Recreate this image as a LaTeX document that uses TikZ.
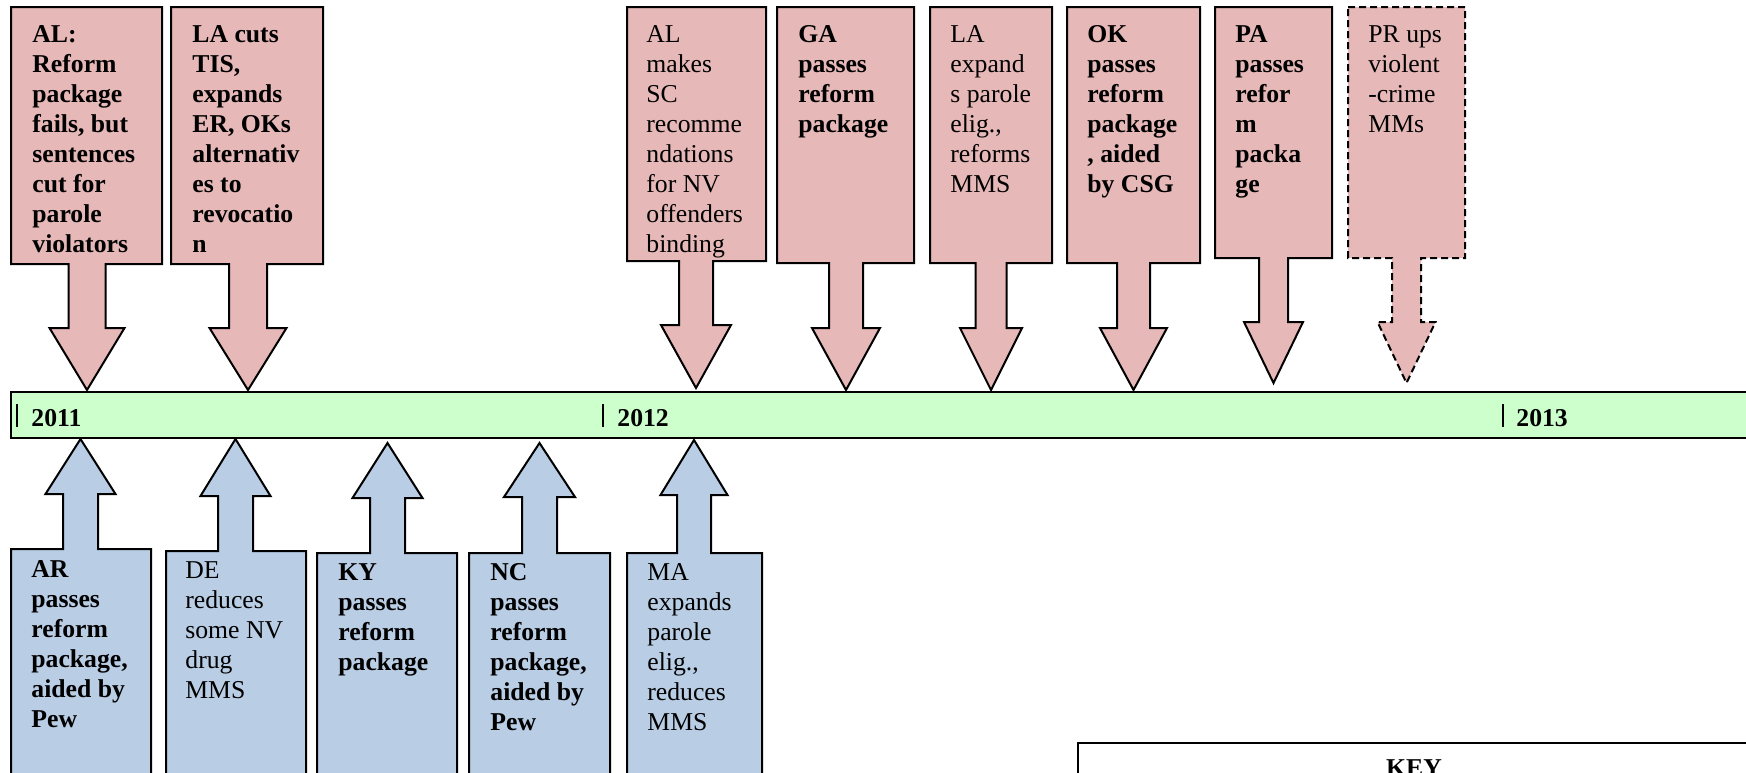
\documentclass[tikz,border=0pt]{standalone}
\usepackage{fontspec}
\setmainfont{Liberation Serif}
\definecolor{pinkfill}{HTML}{E6B8B7}
\definecolor{bluefill}{HTML}{B9CDE5}
\definecolor{barfill}{HTML}{CCFFCC}
\newcommand\fl{\rule{0pt}{10pt}}
% #1 opts, #2 x1, #3 x2, #4 box bottom, #5 tip x, #6 shaft half, #7 head half, #8 head y, #9 tip y
\newcommand\downcall[9][]{%
  \filldraw[callout,fill=pinkfill,#1] (#2,7) -- (#3,7) -- (#3,#4) -- ({#5+#6},#4) -- ({#5+#6},#8) -- ({#5+#7},#8) -- (#5,#9) -- ({#5-#7},#8) -- ({#5-#6},#8) -- ({#5-#6},#4) -- (#2,#4) -- cycle;}
% #1 opts, #2 x1, #3 x2, #4 box top, #5 tip x, #6 shaft half, #7 head half, #8 head y, #9 tip y
\newcommand\upcall[9][]{%
  \filldraw[callout,fill=bluefill,#1] (#2,800) -- (#2,#4) -- ({#5-#6},#4) -- ({#5-#6},#8) -- ({#5-#7},#8) -- (#5,#9) -- ({#5+#7},#8) -- ({#5+#6},#8) -- ({#5+#6},#4) -- (#3,#4) -- (#3,800) -- cycle;}
\begin{document}
\begin{tikzpicture}[x=0.5pt,y=-0.5pt,
  callout/.style={draw=black,line width=1pt,line join=miter},
  rtxt/.style={anchor=north west,inner sep=0pt,align=left,font=\fontsize{12.85pt}{15pt}\selectfont},
  btxt/.style={rtxt,font=\fontsize{12.85pt}{15pt}\selectfont\bfseries},
  yr/.style={anchor=base west,inner sep=0pt,font=\fontsize{12.85pt}{15pt}\selectfont\bfseries},
  tick/.style={line width=0.7pt}]
\useasboundingbox (0,0) rectangle (1746,772);
\clip (0,0) rectangle (1746,772);

% timeline bar
\filldraw[fill=barfill,draw=black,line width=1pt] (11,392) rectangle (1770,438);
\draw[tick] (17,404) -- (17,427);
\draw[tick] (603,404) -- (603,427);
\draw[tick] (1503,404) -- (1503,427);
\node[yr] (y2011) at (31,426) {2011};
\node[yr] (y2012) at (617,426) {2012};
\node[yr] (y2013) at (1516,426) {2013};

% top callouts
\downcall{11}{162}{264}{87}{18.5}{37.5}{328}{390}
\downcall{171}{323}{264}{248}{19}{38.5}{328}{390}
\downcall{627}{766}{261}{696}{17}{35}{325}{388}
\downcall{777}{914}{263}{846}{17}{34}{328}{390}
\downcall{930}{1052}{263}{991}{15.5}{31}{328}{390}
\downcall{1067}{1200}{263}{1133.5}{16.5}{33.5}{328}{390}
\downcall{1215}{1332}{258}{1273.5}{14.5}{29.5}{322}{383}
\downcall[dash pattern=on 3.5pt off 2pt]{1348}{1465}{258}{1406.5}{14.5}{29}{322}{383}

\node[btxt] (al) at (32,22) {\fl AL:\\Reform\\package\\fails, but\\sentences\\cut for\\parole\\violators};
\node[btxt] (lacuts) at (192,22) {\fl LA cuts\\TIS,\\expands\\ER, OKs\\alternativ\\es to\\revocatio\\n};
\node[rtxt] (almakes) at (646,22) {\fl AL\\makes\\SC\\recomme\\ndations\\for NV\\offenders\\binding};
\node[btxt] (ga) at (798,22) {\fl GA\\passes\\reform\\package};
\node[rtxt] (laexp) at (950,22) {\fl LA\\expand\\s parole\\elig.,\\reforms\\MMS};
\node[btxt] (ok) at (1087,22) {\fl OK\\passes\\reform\\package\\, aided\\by CSG};
\node[btxt] (pa) at (1235,22) {\fl PA\\passes\\refor\\m\\packa\\ge};
\node[rtxt] (pr) at (1368,22) {\fl PR ups\\violent\\-crime\\MMs};

% bottom callouts
\upcall{11}{151}{549}{80.5}{17.5}{35}{494}{439}
\upcall{166}{306}{551}{235.5}{17.5}{35}{496}{439}
\upcall{317}{457}{553}{387.5}{17.5}{35}{498}{443}
\upcall{469}{610}{553}{539.5}{17.5}{35.5}{497}{443}
\upcall{627}{762}{553}{694}{17}{33.5}{495}{440}

\node[btxt] (ar) at (31,557) {\fl AR\\passes\\reform\\package,\\aided by\\Pew};
\node[rtxt] (de) at (185,558) {\fl DE\\reduces\\some NV\\drug\\MMS};
\node[btxt] (ky) at (338,560) {\fl KY\\passes\\reform\\package};
\node[btxt] (nc) at (490,560) {\fl NC\\passes\\reform\\package,\\aided by\\Pew};
\node[rtxt] (ma) at (647,560) {\fl MA\\expands\\parole\\elig.,\\reduces\\MMS};

% key box
\filldraw[fill=white,draw=black,line width=1pt] (1078,800) -- (1078,743) -- (1770,743) -- (1770,800) -- cycle;
\node[anchor=base,inner sep=0pt,font=\fontsize{12.85pt}{15pt}\selectfont\bfseries] (key) at (1414,776) {KEY};
\end{tikzpicture}
\end{document}
